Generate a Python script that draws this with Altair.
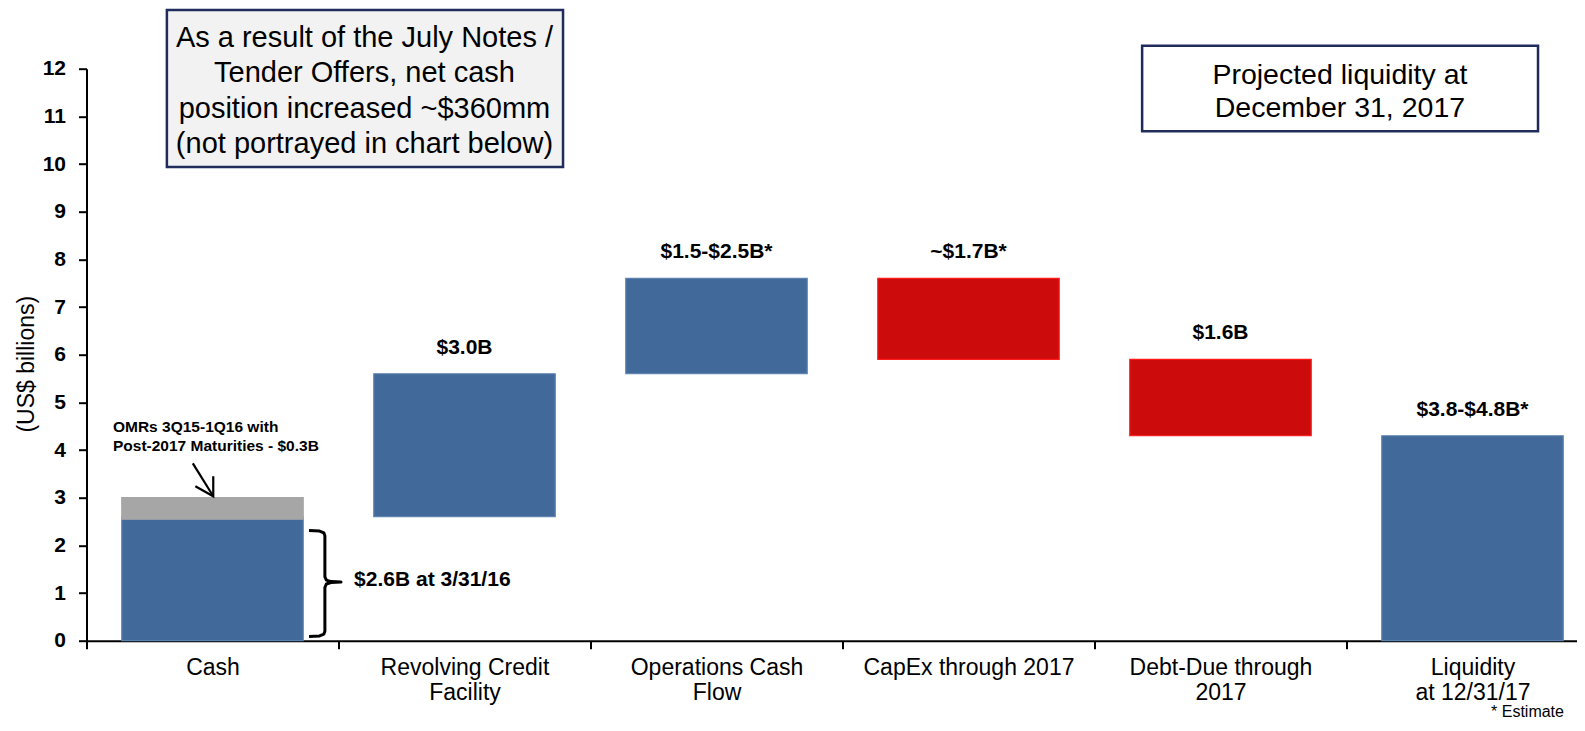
import json
import altair as alt
import pandas as pd

# ---------------- data ----------------
categories = [
    "Cash",
    "Revolving Credit\nFacility",
    "Operations Cash\nFlow",
    "CapEx through 2017",
    "Debt-Due through\n2017",
    "Liquidity\nat 12/31/17",
]
bar_low = [0.0, 2.6, 5.6, 5.9, 4.3, 0.0]
bar_high = [2.6, 5.6, 7.6, 7.6, 5.9, 4.3]
bar_kind = ["increase", "increase", "increase", "decrease", "decrease", "increase"]
bar_labels = ["", "$3.0B", "$1.5-$2.5B*", "~$1.7B*", "$1.6B", "$3.8-$4.8B*"]
omr_low = 2.55
omr_high = 3.0
y_ticks = list(range(0, 13))

note_box_text = "As a result of the July Notes /\nTender Offers, net cash\nposition increased ~$360mm\n(not portrayed in chart below)"
liq_box_text = "Projected liquidity at\nDecember 31, 2017"
omr_text = "OMRs 3Q15-1Q16 with\nPost-2017 Maturities - $0.3B"
cash_text = "$2.6B at 3/31/16"
footnote = "* Estimate"

# ---------------- style ----------------
FONT = "Liberation Sans"
BLUE = "#416a9b"
BLUE_EDGE = "#5d82b0"
RED = "#cc0c0c"
RED_EDGE = "#ff1a1a"
GRAY = "#a6a6a6"
NAVY = "#1f2c5c"
HALF = 0.36

xs = alt.Scale(domain=[-0.5, 5.4127], nice=False, zero=False)
ys = alt.Scale(domain=[0, 12], nice=False, zero=False)

n = len(categories)
bars = pd.DataFrame({
    "idx": list(range(n)) + [0],
    "lo": bar_low + [omr_low],
    "hi": bar_high + [omr_high],
    "kind": bar_kind + ["omr"],
})
labels_df = pd.DataFrame({"idx": list(range(n)), "hi": bar_high, "label": bar_labels})
labels_df = labels_df[labels_df["label"] != ""]

expr = "".join(
    f"datum.value === {i} ? {json.dumps(c.split(chr(10)))} : " for i, c in enumerate(categories)
) + "''"

x_axis = alt.Axis(
    values=[-0.5 + 0.5 * k for k in range(12)],
    title=None, grid=False, labelExpr=expr, labelOverlap=False, labelFlush=False, labelLimit=0,
    tickSize=8, tickWidth=2, tickColor="black",
    tickOpacity={"condition": {"test": "datum.value % 1 === 0", "value": 0}, "value": 1},
    domainColor="black", domainWidth=2,
    labelFont=FONT, labelFontSize=23, labelColor="black", labelPadding=8, labelLineHeight=25,
)
y_axis = alt.Axis(
    values=y_ticks, title="(US$ billions)", grid=False,
    tickSize=8, tickWidth=2, tickColor="black", domainColor="black", domainWidth=2,
    labelFont=FONT, labelFontSize=21, labelFontWeight="bold", labelColor="black", labelPadding=13,
    titleFont=FONT, titleFontSize=23, titleFontWeight="normal", titleColor="black",
    titleX=-60.5, titleY=295, titleBaseline="middle", titleAlign="center", titleAngle=270,
)


def X(field):
    return alt.X(field, scale=xs, axis=x_axis)


def Y(field):
    return alt.Y(field, scale=ys, axis=y_axis)


kinds = ["increase", "decrease", "omr"]
bar_layer = alt.Chart(bars).transform_calculate(
    x0=f"datum.idx - {HALF}", x1=f"datum.idx + {HALF}"
).mark_bar(strokeWidth=1.2).encode(
    x=X("x0:Q"), x2="x1:Q",
    y=Y("lo:Q"), y2="hi:Q",
    fill=alt.Fill("kind:N", scale=alt.Scale(domain=kinds, range=[BLUE, RED, GRAY]), legend=None),
    stroke=alt.Stroke("kind:N", scale=alt.Scale(domain=kinds, range=[BLUE_EDGE, RED_EDGE, GRAY]), legend=None),
)

value_layer = alt.Chart(labels_df).mark_text(
    dy=-26, fontSize=21, fontWeight="bold", font=FONT, color="black", baseline="middle"
).encode(x=X("idx:Q"), y=Y("hi:Q"), text="label:N")

# annotation boxes (placed in data units)
boxes = pd.DataFrame({
    "x0": [-0.181, 3.689], "x1": [1.391, 5.26],
    "y0": [9.94, 10.69], "y1": [13.23, 12.48],
    "fill": ["#f2f2f2", "#ffffff"],
})
box_layer = alt.Chart(boxes).mark_rect(stroke=NAVY, strokeWidth=2.5).encode(
    x=X("x0:Q"), x2="x1:Q", y=Y("y0:Q"), y2="y1:Q",
    fill=alt.Fill("fill:N", scale=None),
)

# y gives the centre of the first text line
box_text_layer1 = alt.Chart(pd.DataFrame({"x": [0.603], "y": [12.65], "t": [note_box_text]})).mark_text(
    font=FONT, fontSize=29, lineHeight=35.5, lineBreak="\n", color="black", baseline="middle", align="center"
).encode(x=X("x:Q"), y=Y("y:Q"), text="t:N")
box_text_layer2 = alt.Chart(pd.DataFrame({"x": [4.474], "y": [11.87], "t": [liq_box_text]})).mark_text(
    font=FONT, fontSize=28.5, lineHeight=33, lineBreak="\n", color="black", baseline="middle", align="center"
).encode(x=X("x:Q"), y=Y("y:Q"), text="t:N")

omr_layer = alt.Chart(pd.DataFrame({"x": [-0.395], "y": [4.48], "t": [omr_text]})).mark_text(
    font=FONT, fontSize=15.5, fontWeight="bold", lineHeight=18.6, lineBreak="\n",
    color="black", baseline="middle", align="left"
).encode(x=X("x:Q"), y=Y("y:Q"), text="t:N")

cash_layer = alt.Chart(pd.DataFrame({"x": [0.562], "y": [1.27], "t": [cash_text]})).mark_text(
    font=FONT, fontSize=21, fontWeight="bold", color="black", baseline="middle", align="left"
).encode(x=X("x:Q"), y=Y("y:Q"), text="t:N")

foot_layer = alt.Chart(pd.DataFrame({"x": [5.363], "y": [-1.61], "t": [footnote]})).mark_text(
    font=FONT, fontSize=16, color="black", baseline="alphabetic", align="right"
).encode(x=X("x:Q"), y=Y("y:Q"), text="t:N")

# brace beside the cash bar
brace_x = [0.383, 0.425, 0.442, 0.446, 0.446, 0.452, 0.47, 0.51, 0.47, 0.452, 0.446, 0.446, 0.442, 0.425, 0.383]
brace_y = [2.31, 2.30, 2.26, 2.20, 1.34, 1.27, 1.24, 1.23, 1.22, 1.19, 1.12, 0.20, 0.14, 0.10, 0.09]
brace = pd.DataFrame({"x": brace_x, "y": brace_y, "k": list(range(len(brace_x)))})
brace_layer = alt.Chart(brace).mark_line(color="black", strokeWidth=3, strokeJoin="round").encode(
    x=X("x:Q"), y=Y("y:Q"), order="k:Q"
)

# arrow pointing at the grey block
arrow = pd.DataFrame({
    "x": [-0.078, 0.003, -0.068, 0.003, 0.003],
    "y": [3.72, 3.03, 3.24, 3.03, 3.45],
    "seg": ["a", "a", "b", "b", "b"],
    "k": [0, 1, 0, 1, 2],
})
arrow_layer = alt.Chart(arrow).mark_line(color="black", strokeWidth=2.2).encode(
    x=X("x:Q"), y=Y("y:Q"), detail="seg:N", order="k:Q"
)

chart = alt.layer(
    bar_layer, value_layer, box_layer, box_text_layer1, box_text_layer2,
    omr_layer, cash_layer, foot_layer, brace_layer, arrow_layer,
).properties(
    width=1490, height=572,
    autosize=alt.AutoSizeParams(type="none"),
    padding={"left": 78.5, "top": 60.7, "right": 0, "bottom": 81.3},
    background="white",
).configure_view(strokeWidth=0)

chart.save("out.html", embed_options={"renderer": "svg", "actions": False})
